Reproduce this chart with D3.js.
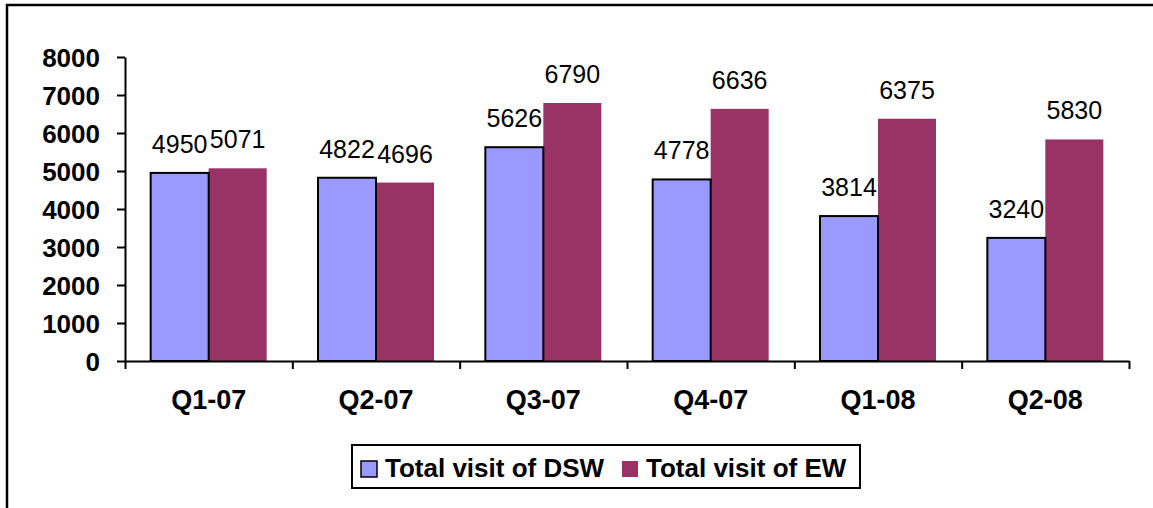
<!DOCTYPE html>
<html>
<head>
<meta charset="utf-8">
<script src="https://cdn.jsdelivr.net/npm/d3@7"></script>
<style>
  body { margin: 0; background: #fff; }
  text { font-family: "Liberation Sans", Arial, sans-serif; fill: #000; }
</style>
</head>
<body>
<svg width="1153" height="508"></svg>
<script>
// Data
const quarters = ["Q1-07", "Q2-07", "Q3-07", "Q4-07", "Q1-08", "Q2-08"];
const seriesNames = ["Total visit of DSW", "Total visit of EW"];
const dswVisits = [4950, 4822, 5626, 4778, 3814, 3240];
const ewVisits = [5071, 4696, 6790, 6636, 6375, 5830];
const yTicks = [0, 1000, 2000, 3000, 4000, 5000, 6000, 7000, 8000];
const colors = ["#9999FF", "#993366"];

const svg = d3.select("svg");

// Outer frame (right and bottom edges sit outside the picture)
svg.append("rect")
	.attr("x", 7).attr("y", 5)
	.attr("width", 1300).attr("height", 700)
	.attr("fill", "#fff")
	.attr("stroke", "#000")
	.attr("stroke-width", 2.5);

const plot = { left: 125, right: 1129, top: 57, bottom: 361 };

// Scales
const y = d3.scaleLinear().domain([0, 8000]).range([plot.bottom, plot.top]);
const x0 = d3.scaleBand().domain(quarters).range([plot.left, plot.right]).padding(0);
const x1 = d3.scaleBand().domain(seriesNames).range([0, x0.bandwidth()])
	.paddingInner(0).paddingOuter(0.4425);
const xEdge = d3.scaleLinear().domain([0, quarters.length]).range([plot.left, plot.right]);

// Rows of data per quarter
const rows = quarters.map((q, i) => ({
	quarter: q,
	values: [
		{ name: seriesNames[0], value: dswVisits[i], color: colors[0] },
		{ name: seriesNames[1], value: ewVisits[i], color: colors[1] },
	],
}));

// Bars
const groups = svg.selectAll(".group")
	.data(rows)
	.join("g")
	.attr("class", "group")
	.attr("transform", (d) => `translate(${x0(d.quarter)},0)`);

// EW first so the DSW outline sits on top
groups.selectAll(".bar")
	.data((d) => d.values.slice().reverse())
	.join("rect")
	.attr("class", "bar")
	.attr("x", (d) => x1(d.name))
	.attr("y", (d) => y(d.value))
	.attr("width", x1.bandwidth())
	.attr("height", (d) => y(0) - y(d.value))
	.attr("fill", (d) => d.color)
	.attr("stroke", (d) => (d.name === seriesNames[0] ? "#000" : "none"))
	.attr("stroke-width", 2);

// Value labels
groups.selectAll(".val")
	.data((d) => d.values)
	.join("text")
	.attr("class", "val")
	.attr("x", (d) => x1(d.name) + x1.bandwidth() / 2)
	.attr("y", (d) => y(d.value) - 20)
	.attr("text-anchor", "middle")
	.style("font-size", "25px")
	.text((d) => d.value);

// Y axis
const yAxis = svg.append("g")
	.attr("transform", `translate(${plot.left},0)`)
	.call(d3.axisLeft(y).tickValues(yTicks).tickFormat(d3.format("d"))
		.tickSize(8).tickSizeOuter(0).tickPadding(17));
yAxis.selectAll("text")
	.style("font-size", "26px")
	.style("font-weight", "bold")
	.attr("dy", "0.36em");
yAxis.selectAll("line, path").attr("stroke", "#000").attr("stroke-width", 2);

// X axis: tick marks on category edges
const xAxis = svg.append("g")
	.attr("transform", `translate(0,${plot.bottom})`)
	.call(d3.axisBottom(xEdge).ticks(quarters.length).tickSize(8).tickSizeOuter(0).tickFormat(""));
xAxis.selectAll("line, path").attr("stroke", "#000").attr("stroke-width", 2);

// X axis labels
const xLabels = svg.append("g")
	.attr("transform", `translate(0,${plot.bottom})`)
	.call(d3.axisBottom(x0).tickSize(0).tickPadding(29));
xLabels.select(".domain").remove();
xLabels.selectAll("text")
	.style("font-size", "27px")
	.style("font-weight", "bold");

// Legend
const legend = svg.append("g");
legend.append("rect")
	.attr("x", 352).attr("y", 445)
	.attr("width", 508).attr("height", 43)
	.attr("fill", "#fff")
	.attr("stroke", "#000")
	.attr("stroke-width", 2);

const legendX = [361, 622];
const legendItems = legend.selectAll(".item")
	.data(seriesNames)
	.join("g")
	.attr("class", "item")
	.attr("transform", (d, i) => `translate(${legendX[i]},461)`);

legendItems.append("rect")
	.attr("width", 16).attr("height", 16)
	.attr("fill", (d, i) => colors[i])
	.attr("stroke", (d, i) => (i === 0 ? "#000" : "none"))
	.attr("stroke-width", 1.5);

legendItems.append("text")
	.attr("x", 24)
	.attr("y", 16)
	.style("font-size", "26px")
	.style("font-weight", "bold")
	.text((d) => d);
</script>
</body>
</html>
